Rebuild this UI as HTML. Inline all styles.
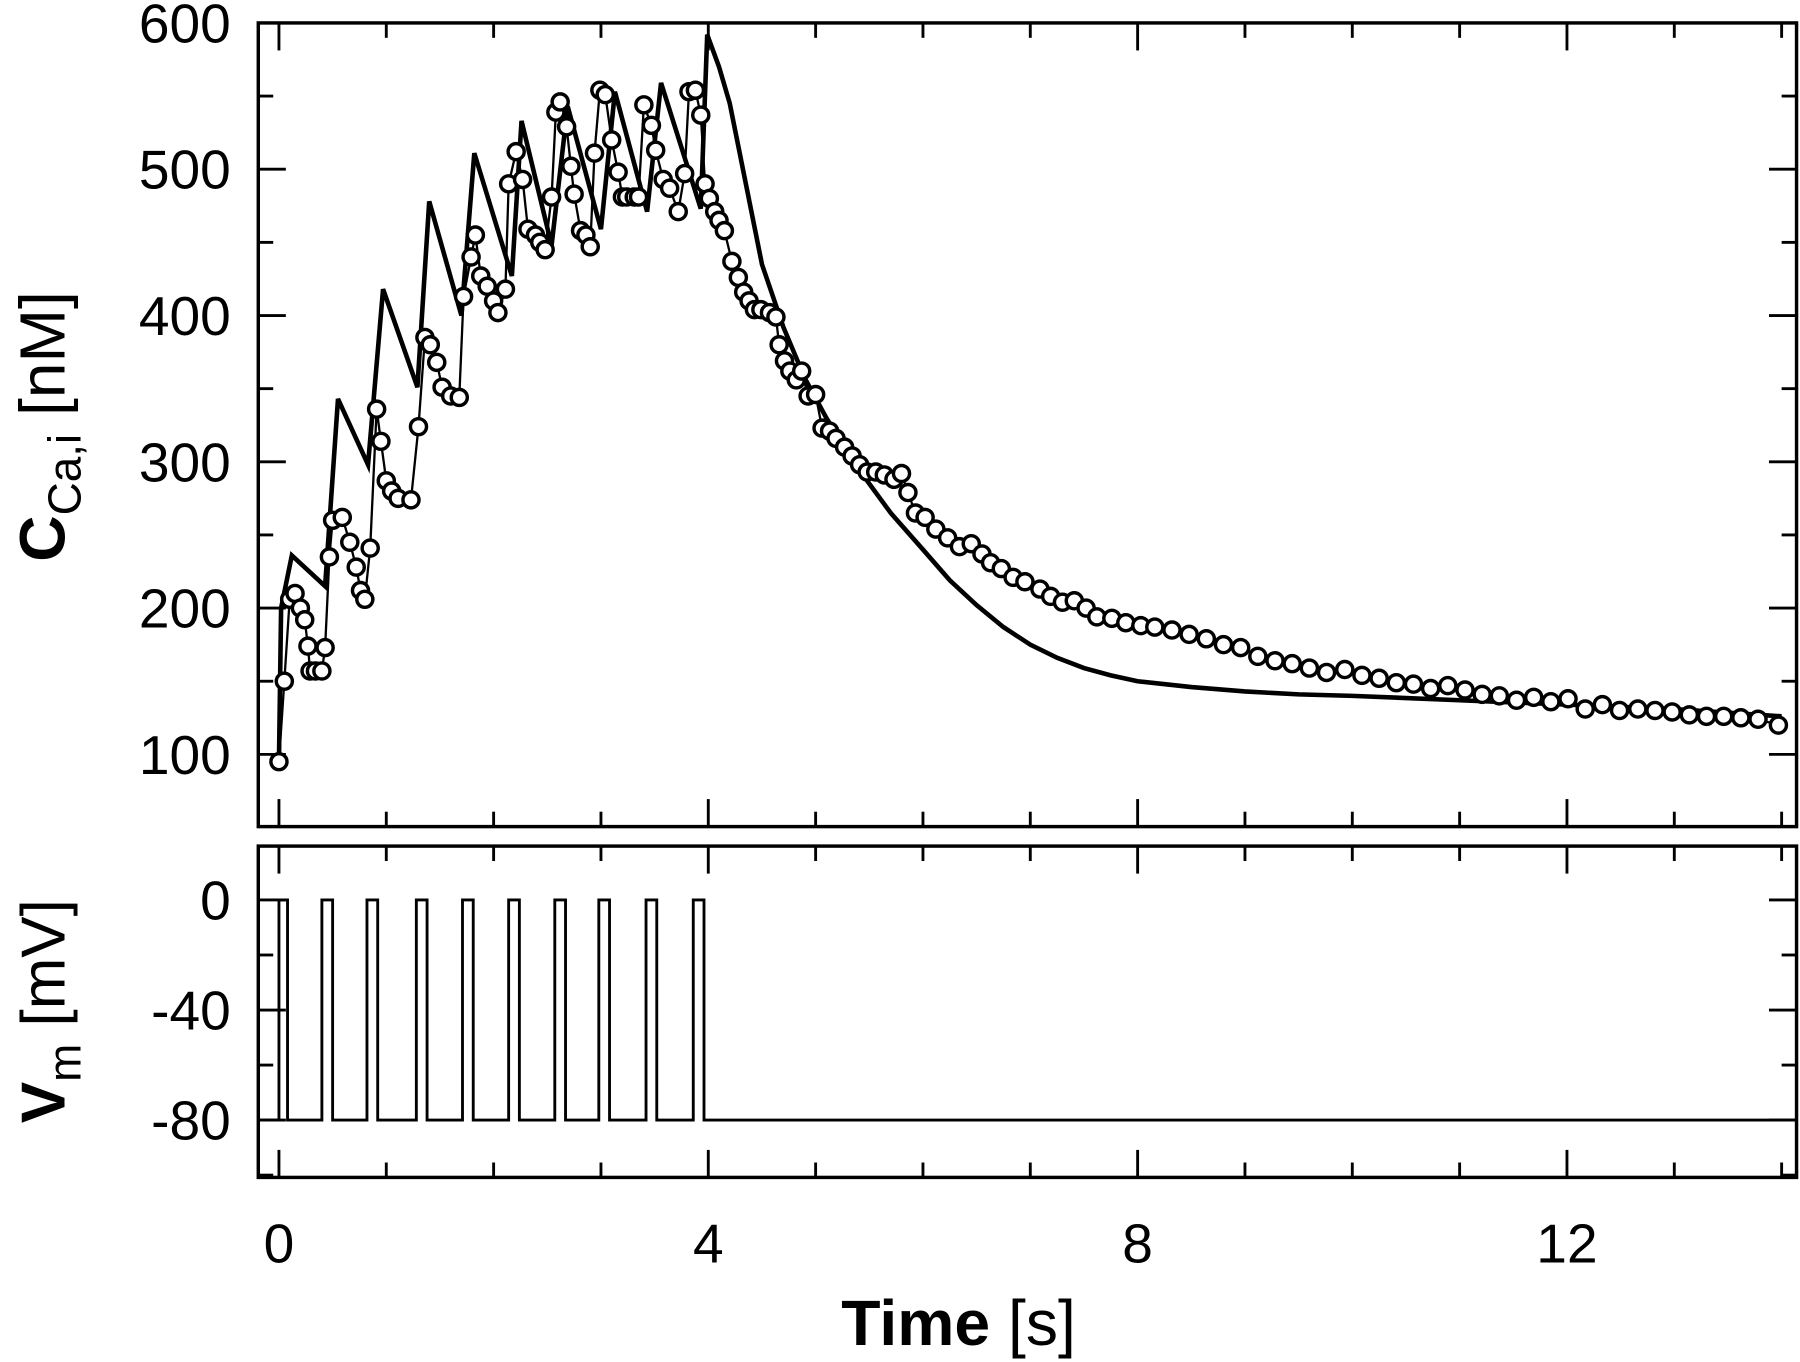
<!DOCTYPE html>
<html><head><meta charset="utf-8"><style>
html,body{margin:0;padding:0;background:#fff;}
svg{display:block;}
text{font-family:"Liberation Sans",Arial,sans-serif;fill:#000;}
</style></head><body>
<svg id="chart" width="1800" height="1362" viewBox="0 0 1568 1188" preserveAspectRatio="none" xmlns="http://www.w3.org/2000/svg">
<g id="gtop"></g>
<g id="gbot"></g>
<g id="labels">
<text transform="translate(56,372) rotate(-90)" text-anchor="middle" font-size="56"><tspan font-weight="bold">C</tspan><tspan font-size="40" dy="14">Ca,i</tspan><tspan dy="-14"> [nM]</tspan></text>
<text transform="translate(56,882) rotate(-90)" text-anchor="middle" font-size="54"><tspan font-weight="bold">V</tspan><tspan font-size="40" dy="14">m</tspan><tspan dy="-14"> [mV]</tspan></text>
<text x="835" y="1173" text-anchor="middle" font-size="56"><tspan font-weight="bold">Time</tspan> [s]</text>
</g>
</svg>
<script>
// ---- data ----
const modelT = [0,0.02,0.12,0.43,0.55,0.83,0.97,1.29,1.40,1.70,1.82,2.17,2.26,2.54,2.69,3.00,3.13,3.43,3.56,3.93,3.99,4.1,4.2,4.35,4.5,4.7,4.9,5.1,5.4,5.7,6.0,6.25,6.5,6.75,7.0,7.25,7.5,7.75,8.0,8.5,9,9.5,10,11,12,13,14];
const modelV = [95,200,236,215,343,298,418,351,478,400,511,427,533,448,543,459,553,471,559,473,592,570,545,490,435,392,357,330,295,265,240,219,202,187,175,166,159,154,150,146,143,141,140,137,134,131,126];
const dataT = [0,.05,.10,.15,.20,.24,.27,.29,.34,.40,.43,.47,.50,.59,.66,.72,.76,.80,.85,.91,.95,1.00,1.05,1.11,1.23,1.30,1.36,1.41,1.47,1.52,1.60,1.68,1.72,1.79,1.83,1.88,1.94,2.00,2.04,2.11,2.14,2.21,2.27,2.32,2.39,2.43,2.48,2.54,2.58,2.62,2.68,2.72,2.75,2.81,2.86,2.90,2.94,2.99,3.04,3.10,3.16,3.20,3.24,3.31,3.35,3.40,3.47,3.51,3.58,3.64,3.72,3.78,3.82,3.88,3.93,3.97,
4.01,4.06,4.10,4.15,4.22,4.28,4.33,4.38,4.43,4.49,4.57,4.63,4.66,4.71,4.76,4.82,4.87,4.93,5.00,5.06,5.13,5.19,5.27,5.34,5.41,5.48,5.56,5.64,5.73,5.80,5.86,5.93,6.02,6.12,6.23,6.34,6.45,6.55,6.63,6.73,6.84,6.95,7.09,7.19,7.30,7.41,7.52,7.62,7.76,7.89,8.03,8.16,8.32,8.48,8.64,8.80,8.96,9.12,9.28,9.44,9.60,9.76,9.93,10.09,10.25,10.41,10.57,10.73,10.89,11.05,11.21,11.37,11.53,11.69,11.85,12.01,12.17,12.33,12.49,12.66,12.82,12.98,13.14,13.30,13.46,13.62,13.78,13.97];
const dataV = [95,150,206,210,200,192,174,157,157,157,173,235,260,262,245,228,212,206,241,336,314,287,280,275,274,324,385,380,368,351,345,344,413,440,455,427,420,410,402,418,490,512,493,459,455,450,445,481,539,546,529,502,483,458,455,447,511,554,551,520,498,481,481,481,481,544,530,513,493,487,471,497,553,554,537,490,
480,471,465,458,437,426,416,410,404,404,402,399,380,369,362,356,362,345,346,323,321,316,310,304,298,293,293,291,288,292,279,265,262,254,248,242,244,237,231,227,221,218,213,208,204,205,200,194,193,190,188,187,185,182,179,175,173,167,164,162,159,156,158,154,152,149,148,145,147,144,141,140,137,139,136,138,131,134,130,131,130,129,127,126,126,125,124,120];
const pulseStart = [0,0.40,0.82,1.28,1.71,2.14,2.57,2.98,3.42,3.86];
const pulseWidth = [0.08,0.1,0.1,0.1,0.1,0.1,0.1,0.1,0.1,0.1];
const xTicks = [0,4,8,12];
const yTicksTop = [100,200,300,400,500,600];
const yTicksBot = [0,-40,-80];

const NS='http://www.w3.org/2000/svg';
const L=225,R=1565;
const xs=t=>243+(t)*(617-243)/4;
const T0=20,T1=721,yTop=v=>20+(600-v)*(658-20)/500;
const B0=738,B1=1027,yBot=v=>785+(0-v)*(977-785)/80;
function mk(p,tag,a){const e=document.createElementNS(NS,tag);for(const k in a)e.setAttribute(k,a[k]);p.appendChild(e);return e;}
const gTop=document.getElementById('gtop'),gBot=document.getElementById('gbot');

function frame(g,y0,y1,yf,majors,minorStep,vmin,vmax,nameP){
  const r=mk(g,'rect',{x:L,y:y0,width:R-L,height:y1-y0,fill:'none',stroke:'#000','stroke-width':3});
  
  
  for(let t=0;t<=14;t++){
    const len=(t%4===0)?24:13;const x=xs(t);
    const a=mk(g,'line',{x1:x,x2:x,y1:y1,y2:y1-len,stroke:'#000','stroke-width':2.5});
    
    
    const b=mk(g,'line',{x1:x,x2:x,y1:y0,y2:y0+len,stroke:'#000','stroke-width':2.5});
    
    
  }
  for(let v=vmin;v<=vmax;v+=minorStep){
    const maj=majors.indexOf(v)>=0;const len=maj?24:13;const y=yf(v);
    if(y<y0+1||y>y1-1)continue;
    const a=mk(g,'line',{x1:L,x2:L+len,y1:y,y2:y,stroke:'#000','stroke-width':2.5});
    
    
    const b=mk(g,'line',{x1:R,x2:R-len,y1:y,y2:y,stroke:'#000','stroke-width':2.5});
    
    
  }
  majors.forEach(v=>{
    const t=mk(g,'text',{x:201,y:yf(v)+17,'text-anchor':'end','font-size':48});
    t.textContent=v;
    
    
  });
}
frame(gTop,T0,T1,yTop,yTicksTop,50,50,600,'calcium');
frame(gBot,B0,B1,yBot,yTicksBot,20,-100,20,'voltage');

xTicks.forEach(t=>{
  const e=mk(gBot,'text',{x:xs(t),y:1101,'text-anchor':'middle','font-size':48});
  e.textContent=t;
  
  
});

// model line
let d='';modelT.forEach((t,i)=>{d+=(i?'L':'M')+xs(t)+','+yTop(modelV[i]);});
const ml=mk(gTop,'path',{d:d,fill:'none',stroke:'#000','stroke-width':4,'stroke-linejoin':'miter'});


// data connecting line
let d2='';dataT.forEach((t,i)=>{d2+=(i?'L':'M')+xs(t)+','+yTop(dataV[i]);});
const dl=mk(gTop,'path',{d:d2,fill:'none',stroke:'#000','stroke-width':2});


dataT.forEach((t,i)=>{
  const c=mk(gTop,'circle',{cx:xs(t),cy:yTop(dataV[i]),r:7,fill:'#fff',stroke:'#000','stroke-width':3});
  
  
});

// voltage trace
let d3='M'+(L+1)+','+yBot(-80);
pulseStart.forEach((s,i)=>{const e=s+pulseWidth[i];d3+='L'+xs(s)+','+yBot(-80)+'L'+xs(s)+','+yBot(0)+'L'+xs(e)+','+yBot(0)+'L'+xs(e)+','+yBot(-80);});
d3+='L'+(R-1)+','+yBot(-80);
const vl=mk(gBot,'path',{d:d3,fill:'none',stroke:'#000','stroke-width':2.5});


</script>
</body></html>
